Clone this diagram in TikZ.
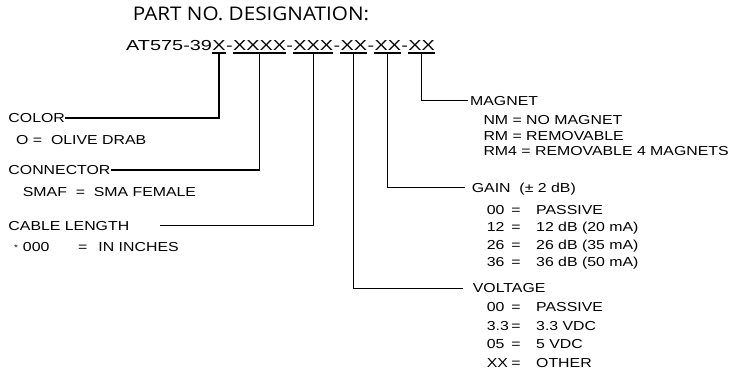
\documentclass[tikz,border=0pt]{standalone}
\usepackage{fontspec}
\setmainfont[FakeStretch=1.22]{Liberation Sans}
\newfontfamily\titlefont[FakeStretch=1.1]{Open Sans}
\newfontfamily\pnfont[FakeStretch=1.37]{Liberation Sans}
\usetikzlibrary{positioning}

\newcommand{\kv}[2]{\makebox[24.5pt][l]{#1}\makebox[24.8pt][l]{=}#2}

\begin{document}
\begin{tikzpicture}[x=1pt,y=-1pt,
        pn/.style={inner sep=0pt,font=\pnfont\fontsize{14.5}{14.5}\selectfont,text height=10.4pt,text depth=0pt},
        grp/.style={pn,inner ysep=2.7pt},
        head/.style={anchor=west,inner sep=0pt,font=\fontsize{13}{17.4}\selectfont,text height=9.3pt,text depth=0pt},
        list/.style={anchor=north west,inner sep=0pt,align=left,font=\fontsize{13}{17.4}\selectfont},
        leader/.style={line width=1.2pt}]
    \useasboundingbox (0,0) rectangle (738,375);

    \node[inner sep=0pt,anchor=base west,font=\titlefont\fontsize{18.8}{18.8}\selectfont] (title) at (132.7,20.7) {PART NO. DESIGNATION:};

    \node[pn,anchor=base west] (pre) at (126,50) {AT575-39};
    \node[grp,base right=0pt of pre] (gC) {X};
    \node[pn,base right=0pt of gC] (d1) {-};
    \node[grp,base right=0pt of d1] (gK) {XXXX};
    \node[pn,base right=0pt of gK] (d2) {-};
    \node[grp,base right=0pt of d2] (gL) {XXX};
    \node[pn,base right=0pt of gL] (d3) {-};
    \node[grp,base right=0pt of d3] (gV) {XX};
    \node[pn,base right=0pt of gV] (d4) {-};
    \node[grp,base right=0pt of d4] (gG) {XX};
    \node[pn,base right=0pt of gG] (d5) {-};
    \node[grp,base right=0pt of d5] (gM) {XX};

    \node[head] (color) at (8.3,118) {COLOR};
    \node[list] (colorval) at (16,135) {O~=~~OLIVE DRAB};
    \node[head] (connector) at (8.3,170) {CONNECTOR};
    \node[list] (connval) at (22.7,187) {SMAF~~=~~SMA FEMALE};
    \node[head] (cable) at (8.3,225.5) {CABLE LENGTH};
    \node[list] (cableval) at (14,242) {\makebox[64pt][l]{\raisebox{1pt}{\footnotesize *}\hspace{5pt}000}\makebox[20.3pt][l]{=}IN INCHES};
    \coordinate (cableend) at (160,225.5);

    \node[head] (magnet) at (470,100.7) {MAGNET};
    \node[list,font=\fontsize{13}{15.7}\selectfont] (magnetval) at (483.3,115.3)
        {NM = NO MAGNET\\RM = REMOVABLE\\RM4 = REMOVABLE 4 MAGNETS};
    \node[head] (gain) at (471.7,187.5) {GAIN~~(±~2 dB)};
    \node[list] (gainval) at (486.7,205.3)
        {\kv{00}{PASSIVE}\\\kv{12}{12 dB (20 mA)}\\\kv{26}{26 dB (35 mA)}\\\kv{36}{36 dB (50 mA)}};
    \node[head] (voltage) at (472.7,288.3) {VOLTAGE};
    \node[list,font=\fontsize{13}{18.5}\selectfont] (voltageval) at (486.7,302.6)
        {\kv{00}{PASSIVE}\\\kv{3.3}{3.3 VDC}\\\kv{05}{5 VDC}\\\kv{XX}{OTHER}};

    \draw[leader] (gC.south west) -- (gC.south east) (gC.south) |- (color.east);
    \draw[leader] (gK.south west) -- (gK.south east) (gK.south) |- (connector.east);
    \draw[leader] (gL.south west) -- (gL.south east) (gL.south) |- (cableend);
    \draw[leader] (gV.south west) -- (gV.south east) (gV.south) |- ([xshift=-9.4pt]voltage.west);
    \draw[leader] (gG.south west) -- (gG.south east) (gG.south) |- ([xshift=-6.7pt]gain.west);
    \draw[leader] (gM.south west) -- (gM.south east) (gM.south) |- ([xshift=-1.7pt]magnet.west);
\end{tikzpicture}
\end{document}
